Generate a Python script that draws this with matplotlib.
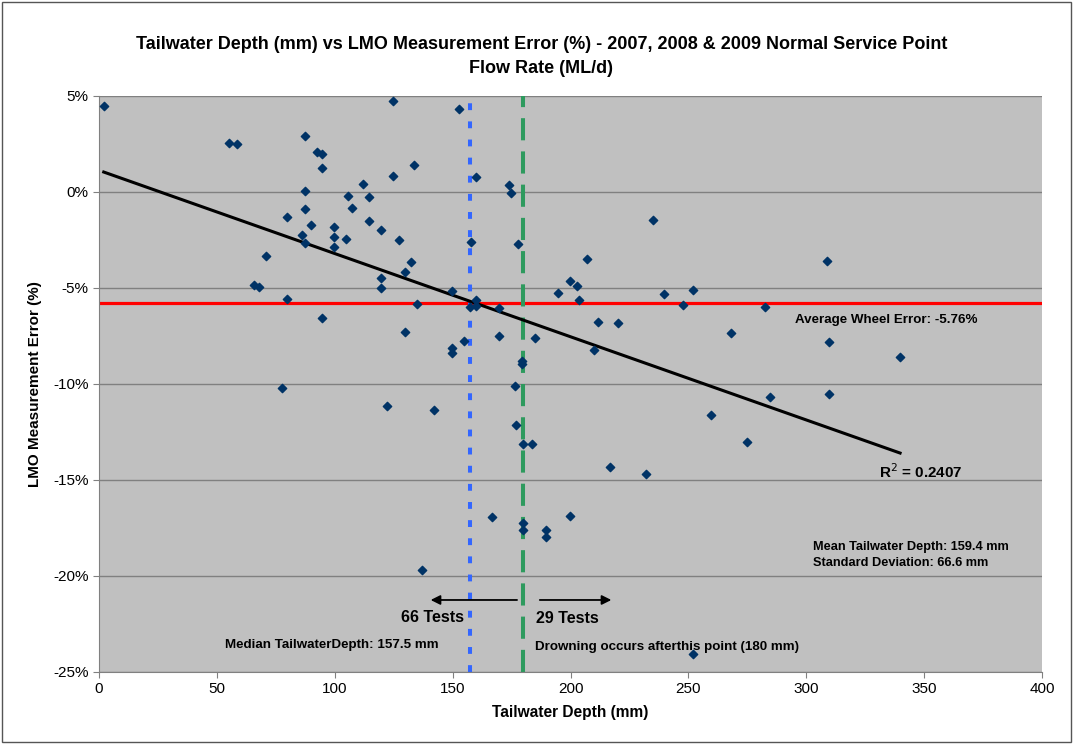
import numpy as np
import matplotlib
matplotlib.use('Agg')
import matplotlib.pyplot as plt
from matplotlib.ticker import FuncFormatter, MultipleLocator
from matplotlib.patches import Rectangle

# tailwater depth (mm) and LMO measurement error (%)
depth = [2, 55, 58.5, 87.4, 92.5, 94.6, 94.6, 87.4, 87.4, 79.7, 89.9, 86.2, 87.4,
         99.6, 99.6, 99.6, 104.8, 70.8, 65.7, 67.8, 79.7, 94.6, 77.6, 111.8, 105.7,
         107.2, 114.7, 114.7, 119.6, 127.1, 124.8, 124.8, 119.6, 119.6, 152.7, 133.7,
         159.8, 173.8, 174.8, 157.6, 177.7, 132.2, 129.6, 149.8, 134.7, 157.4, 159.8,
         159.8, 169.7, 129.6, 169.7, 154.8, 149.8, 149.8, 179.5, 179.5, 176.6, 184.8,
         194.7, 199.8, 202.8, 203.8, 207.1, 234.8, 211.8, 220, 209.8, 239.7, 252.1,
         247.7, 268.2, 308.7, 282.7, 309.8, 339.8, 309.8, 284.6, 259.7, 274.7, 122.3,
         142.2, 176.8, 179.7, 183.8, 216.8, 232.2, 166.9, 199.8, 179.7, 179.7, 189.7,
         189.7, 137.1, 252.1]
error = [4.5, 2.55, 2.5, 2.9, 2.1, 2.0, 1.25, 0.05, -0.9, -1.3, -1.7, -2.25, -2.65,
         -1.8, -2.35, -2.85, -2.45, -3.35, -4.85, -4.95, -5.6, -6.55, -10.2, 0.43, -0.21,
         -0.83, -0.28, -1.53, -1.98, -2.48, 0.82, 4.74, -4.46, -4.98, 4.34, 1.42,
         0.76, 0.38, -0.03, -2.6, -2.73, -3.65, -4.18, -5.14, -5.85, -5.97, -5.63,
         -5.94, -6.03, -7.29, -7.48, -7.78, -8.11, -8.4, -8.79, -8.96, -10.12, -7.59,
         -5.26, -4.64, -4.88, -5.61, -3.49, -1.46, -6.77, -6.82, -8.21, -5.33, -5.12,
         -5.87, -7.33, -3.59, -5.97, -7.8, -8.59, -10.5, -10.66, -11.63, -13.0, -11.13,
         -11.34, -12.15, -13.11, -13.11, -14.3, -14.7, -16.93, -16.86, -17.26, -17.59, -17.59,
         -17.97, -19.7, -24.08]

avg_wheel_error = -5.76
median_depth = 157.5
drowning_depth = 180
r_squared = 0.2407
mean_depth = 159.4
std_depth = 66.6
tests_left = 66
tests_right = 29

plt.rcParams['font.family'] = ['Liberation Sans', 'DejaVu Sans']

fig = plt.figure(figsize=(10.74, 7.44), dpi=100)
ax = fig.add_axes([0.0922, 0.0968, 0.8780, 0.7742])
fig.patches.append(Rectangle((0.002, 0.003), 0.995, 0.994, transform=fig.transFigure,
                             fill=False, edgecolor='#555555', linewidth=1))

ax.set_facecolor('#C0C0C0')
ax.set_xlim(0, 400)
ax.set_ylim(-25, 5)
ax.xaxis.set_major_locator(MultipleLocator(50))
ax.yaxis.set_major_locator(MultipleLocator(5))
ax.yaxis.set_major_formatter(FuncFormatter(lambda v, p: '%d%%' % round(v)))
ax.grid(True, axis='y', color='#808080', linewidth=1)
ax.set_axisbelow(True)
for s in ['top', 'right']:
    ax.spines[s].set_visible(False)
for s in ['left', 'bottom']:
    ax.spines[s].set_color('#808080')
ax.tick_params(colors='#808080', labelcolor='black', labelsize=11, length=4)

# trend line from the data
coef = np.polyfit(depth, error, 1)
xs = np.array([min(depth), max(depth)])
ax.plot(xs, np.polyval(coef, xs), color='black', linewidth=2.2, zorder=3)

ax.axhline(avg_wheel_error, color='#FF0000', linewidth=2.3, zorder=2)
ax.axvline(median_depth, color='#3366FF', linewidth=2.9, dashes=(1.7, 2.8), zorder=2)
ax.axvline(drowning_depth, color='#2E9A5E', linewidth=2.9, dashes=(5.5, 2.75), zorder=2)

ax.scatter(depth, error, marker='D', s=18, color='#003366', zorder=4)

ax.annotate('', xy=(139.5, -21.25), xytext=(178.5, -21.25),
            arrowprops=dict(arrowstyle='-|>', color='black', lw=1.3, mutation_scale=14))
ax.annotate('', xy=(218.5, -21.25), xytext=(185.8, -21.25),
            arrowprops=dict(arrowstyle='-|>', color='black', lw=1.3, mutation_scale=14))
ax.text(141.3, -22.14, '%d Tests' % tests_left, ha='center', va='center',
        fontsize=11.5, fontweight='bold')
ax.text(185.4, -22.24, '%d Tests' % tests_right, ha='left', va='center',
        fontsize=11.5, fontweight='bold')

ax.text(53.4, -23.6, 'Median TailwaterDepth: %.1f mm' % median_depth,
        ha='left', va='center', fontsize=9.6, fontweight='bold')
ax.text(185, -23.7, 'Drowning occurs afterthis point (%d mm)' % drowning_depth,
        ha='left', va='center', fontsize=9.6, fontweight='bold')
ax.text(295.2, -6.67, 'Average Wheel Error: %.2f%%' % avg_wheel_error,
        ha='left', va='center', fontsize=9.6, fontweight='bold')
ax.text(330.9, -14.58, 'R$^2$ = %.4f' % r_squared,
        ha='left', va='center', fontsize=11, fontweight='bold')
ax.text(302.9, -18.49, 'Mean Tailwater Depth: %.1f mm' % mean_depth,
        ha='left', va='center', fontsize=9.2, fontweight='bold')
ax.text(302.9, -19.32, 'Standard Deviation: %.1f mm' % std_depth,
        ha='left', va='center', fontsize=9.2, fontweight='bold')

ax.set_xlabel('Tailwater Depth (mm)', fontsize=11.2, fontweight='bold', labelpad=6)
ax.set_ylabel('LMO Measurement Error (%)', fontsize=11, fontweight='bold', labelpad=8)
fig.text(0.504, 0.924, 'Tailwater Depth (mm) vs LMO Measurement Error (%) - 2007, 2008 & 2009 '
         'Normal Service Point\nFlow Rate (ML/d)', ha='center', va='center',
         fontsize=13, fontweight='bold', linespacing=1.55)

fig.savefig('out.png', dpi=100)
